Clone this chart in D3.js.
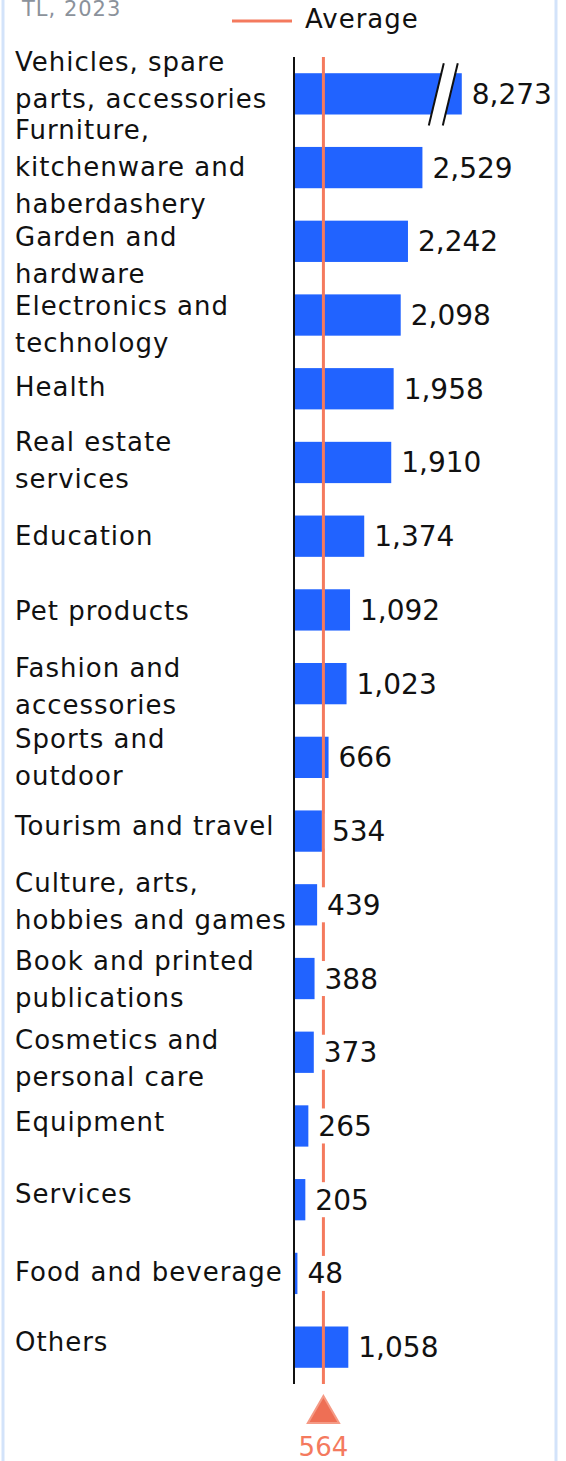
<!DOCTYPE html>
<html>
<head>
<meta charset="utf-8">
<script src="https://cdn.jsdelivr.net/npm/d3@7"></script>
<style>
  html, body { margin: 0; padding: 0; background: #fff; }
  svg { display: block; }
  text { font-family: "DejaVu Sans", "Noto Sans", sans-serif; }
</style>
</head>
<body>
<svg id="chart" width="566" height="1461"></svg>
<script>
// Average online spending per shopper by category, TL, 2023
const categories = [
  "Vehicles, spare\nparts, accessories",
  "Furniture,\nkitchenware and\nhaberdashery",
  "Garden and\nhardware",
  "Electronics and\ntechnology",
  "Health",
  "Real estate\nservices",
  "Education",
  "Pet products",
  "Fashion and\naccessories",
  "Sports and\noutdoor",
  "Tourism and travel",
  "Culture, arts,\nhobbies and games",
  "Book and printed\npublications",
  "Cosmetics and\npersonal care",
  "Equipment",
  "Services",
  "Food and beverage",
  "Others"
];
const values = [8273, 2529, 2242, 2098, 1958, 1910, 1374, 1092, 1023, 666, 534, 439, 388, 373, 265, 205, 48, 1058];
const average = 564;
const unitLabel = "TL, 2023";
const legendLabel = "Average";

// layout
const W = 566, H = 1461;
const axisX = 295, plotTop = 57, plotBottom = 1384;
const barCap = 3310;            // bars beyond this value are drawn broken
const labelNudge = [-32, -38, -4, -9, -2, -20, 0, 1, -16, -18, -5, -22, -18, -12, -4, -6, -1, -5];
const lineH = 37;
const blue = "#2163ff", orange = "#f47a5e", ink = "#111";

const svg = d3.select("#chart");

const x = d3.scaleLinear().domain([0, 5180]).range([axisX, 556]);
const y = d3.scaleBand().domain(categories).range([plotTop, plotBottom])
  .paddingInner(0.44).paddingOuter(0.22);

// unit note and legend
svg.append("text").attr("x", 22).attr("y", 16).attr("fill", "#8b929b")
  .attr("font-size", 21).attr("letter-spacing", 1).text(unitLabel);
svg.append("line").attr("x1", 232).attr("x2", 292).attr("y1", 21).attr("y2", 21)
  .attr("stroke", orange).attr("stroke-width", 3);
svg.append("text").attr("x", 305).attr("y", 28).attr("fill", ink)
  .attr("font-size", 26).attr("letter-spacing", 1).text(legendLabel);

// bars
const rows = categories.map((c, i) => ({ c, v: values[i], i }));
svg.append("g").selectAll("rect").data(rows).join("rect")
  .attr("x", axisX)
  .attr("y", d => y(d.c))
  .attr("width", d => x(Math.min(d.v, barCap)) - axisX)
  .attr("height", y.bandwidth())
  .attr("fill", blue);

// break marks on bars that exceed the cap
rows.filter(d => d.v > barCap).forEach(d => {
  const top = y(d.c) - 10, bot = y(d.c) + y.bandwidth() + 11;
  const xb = x(barCap) - 33, dx = 15, gap = 14;
  const g = svg.append("g");
  g.append("polygon")
    .attr("points", [[xb, bot], [xb + dx, top], [xb + dx + gap, top], [xb + gap, bot]].join(" "))
    .attr("fill", "#fff");
  [0, gap].forEach(o => g.append("line")
    .attr("x1", xb + o).attr("y1", bot).attr("x2", xb + dx + o).attr("y2", top)
    .attr("stroke", ink).attr("stroke-width", 2));
});

// axis line
svg.append("line").attr("x1", axisX - 1).attr("x2", axisX - 1)
  .attr("y1", plotTop).attr("y2", plotBottom).attr("stroke", ink).attr("stroke-width", 2);

// average line
const ax = x(average);
svg.append("line").attr("x1", ax).attr("x2", ax)
  .attr("y1", plotTop).attr("y2", plotBottom).attr("stroke", orange).attr("stroke-width", 3);

// value labels on a white box
const fmt = d3.format(",");
rows.forEach(d => {
  const g = svg.append("g");
  const tx = x(Math.min(d.v, barCap)) + 10;
  const cy = y(d.c) + y.bandwidth() / 2;
  const t = g.append("text")
    .attr("x", tx).attr("y", cy + 10)
    .attr("font-size", 28).attr("fill", ink).text(fmt(d.v));
  const b = t.node().getBBox();
  g.insert("rect", "text").attr("x", tx - 7).attr("y", cy - 17.5)
    .attr("width", b.width + 12).attr("height", 35).attr("fill", "#fff");
});

// category labels
rows.forEach(d => {
  const lines = d.c.split("\n");
  const c0 = y(d.c) + y.bandwidth() / 2 + labelNudge[d.i];
  const t = svg.append("text").attr("x", 15).attr("font-size", 26)
    .attr("letter-spacing", 1).attr("fill", ink);
  lines.forEach((ln, k) => t.append("tspan").attr("x", 15)
    .attr("y", c0 + k * lineH + 9).text(ln));
});

// average marker
svg.append("path")
  .attr("d", d3.symbol().type(d3.symbolTriangle).size(420)())
  .attr("transform", `translate(${ax},${1414})`)
  .attr("fill", "#ee6f55").attr("stroke", "#f59a85").attr("stroke-width", 2);
svg.append("text").attr("x", ax).attr("y", 1456).attr("text-anchor", "middle")
  .attr("font-size", 26).attr("fill", orange).text(fmt(average));

// side frame, drawn on top
svg.append("rect").attr("x", 3).attr("y", -20).attr("width", 553).attr("height", H + 40)
  .attr("rx", 8).attr("fill", "none").attr("stroke", "#d3e3fa").attr("stroke-width", 3);
</script>
</body>
</html>
